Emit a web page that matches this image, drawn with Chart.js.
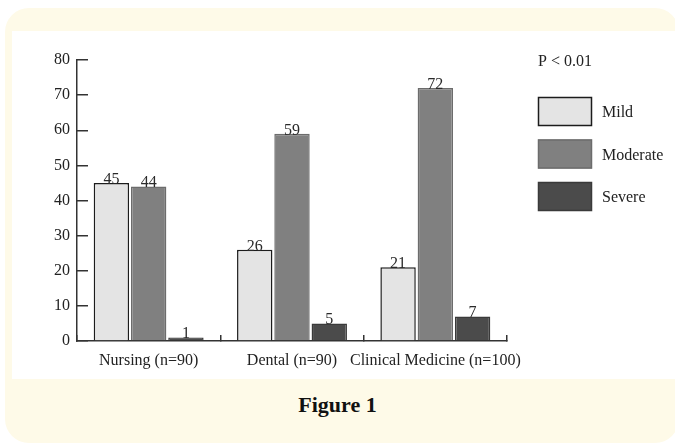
<!DOCTYPE html>
<html>
<head>
<meta charset="utf-8">
<script src="https://cdn.jsdelivr.net/npm/chart.js@4.4.1/dist/chart.umd.min.js"></script>
<style>
  html, body { margin: 0; padding: 0; width: 675px; height: 444px; overflow: hidden; background: #ffffff; }
  #frame { position: absolute; left: 5px; top: 8px; width: 674px; height: 435px; background: #fefae8; border-radius: 24px; }
  #panel { position: absolute; left: 12px; top: 31px; width: 663px; height: 348px; background: #ffffff; }
  #caption { position: absolute; left: 0; top: 392px; width: 675px; text-align: center; font-family: "Liberation Serif", serif; font-weight: bold; font-size: 22px; color: #111; }
  #chart { position: absolute; left: 0; top: 0; }
</style>
</head>
<body>
<div id="frame"></div>
<div id="panel"></div>
<div id="caption">Figure 1</div>
<canvas id="chart" width="675" height="444"></canvas>
<script>
const categories = ["Nursing (n=90)", "Dental (n=90)", "Clinical Medicine (n=100)"];
const seriesNames = ["Mild", "Moderate", "Severe"];
const mildValues = [45, 26, 21];
const moderateValues = [44, 59, 72];
const severeValues = [1, 5, 7];
const yMin = 0;
const yMax = 80;
const yStep = 10;
const pValueText = "P < 0.01";

const serif = "'Liberation Serif', 'Times New Roman', serif";

// value labels sitting on top of each bar
const barValueLabels = {
    id: "barValueLabels",
    afterDatasetsDraw(chart) {
        const ctx = chart.ctx;
        ctx.save();
        ctx.font = "16px " + serif;
        ctx.fillStyle = "#2a2a2a";
        ctx.textAlign = "center";
        ctx.textBaseline = "alphabetic";
        chart.data.datasets.forEach((ds, i) => {
            chart.getDatasetMeta(i).data.forEach((bar, j) => {
                ctx.fillText(String(ds.data[j]), bar.x, bar.y + 1);
            });
        });
        ctx.restore();
    }
};

// legend block on the right, with the P value above it
const sideLegend = {
    id: "sideLegend",
    afterDraw(chart) {
        const ctx = chart.ctx;
        const left = 538;
        ctx.save();
        ctx.font = "16px " + serif;
        ctx.fillStyle = "#222";
        ctx.textBaseline = "middle";
        ctx.textAlign = "left";
        ctx.fillText(pValueText, left, 62);
        chart.data.datasets.forEach((ds, i) => {
            const top = 97 + i * 42.5;
            ctx.fillStyle = ds.backgroundColor;
            ctx.fillRect(left, top, 54, 29);
            ctx.strokeStyle = ds.borderColor;
            ctx.lineWidth = ds.borderWidth;
            ctx.strokeRect(left + 0.5, top + 0.5, 53, 28);
            ctx.fillStyle = "#222";
            ctx.fillText(ds.label, 602, top + 16);
        });
        ctx.restore();
    }
};

new Chart(document.getElementById("chart"), {
    type: "bar",
    data: {
        labels: categories,
        datasets: [
            { label: seriesNames[0], data: mildValues, backgroundColor: "#e4e4e4", borderColor: "#1c1c1c", borderWidth: 1.5 },
            { label: seriesNames[1], data: moderateValues, backgroundColor: "#808080", borderColor: "#6c6c6c", borderWidth: 1.5 },
            { label: seriesNames[2], data: severeValues, backgroundColor: "#4b4b4b", borderColor: "#3a3a3a", borderWidth: 1.5 }
        ]
    },
    options: {
        responsive: false,
        animation: false,
        devicePixelRatio: 1,
        categoryPercentage: 0.78,
        barPercentage: 0.95,
        layout: { padding: { left: 0, top: 60, right: 168, bottom: 0 } },
        plugins: {
            legend: { display: false },
            tooltip: { enabled: false },
            title: { display: false }
        },
        scales: {
            x: {
                offset: true,
                grid: { display: true, offset: true, drawOnChartArea: false, tickLength: -6, color: "#333", lineWidth: 1.5 },
                border: { display: true, color: "#333", width: 1.5 },
                ticks: { color: "#222", font: { family: serif, size: 16 }, padding: 16, maxRotation: 0, autoSkip: false },
                afterFit(scale) { scale.height = 103; }
            },
            y: {
                min: yMin,
                max: yMax,
                grid: { display: true, drawOnChartArea: false, tickLength: -11, color: "#333", lineWidth: 1.5 },
                border: { display: true, color: "#333", width: 1.5 },
                ticks: { stepSize: yStep, color: "#222", font: { family: serif, size: 16 }, padding: 18 },
                afterFit(scale) { scale.width = 77; }
            }
        }
    },
    plugins: [barValueLabels, sideLegend]
});
</script>
</body>
</html>
